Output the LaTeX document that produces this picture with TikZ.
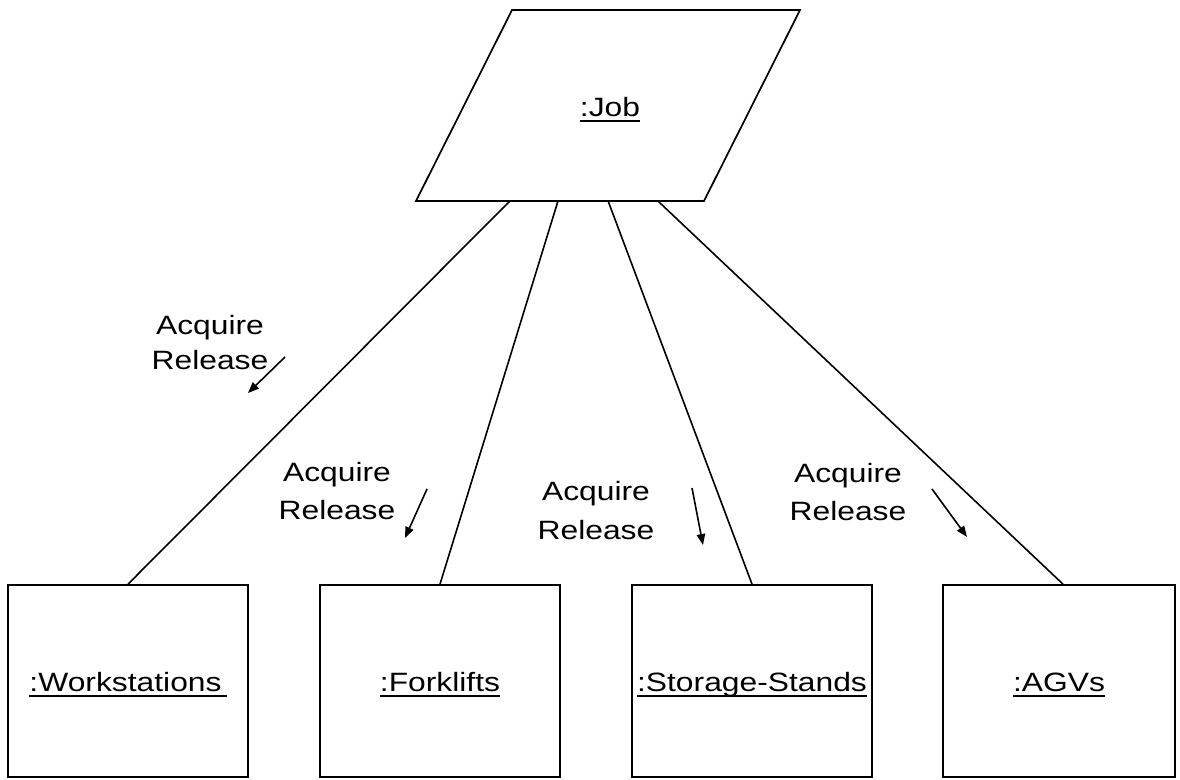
\documentclass[tikz,border=0pt]{standalone}
\usepackage{fontspec}
\setmainfont[FakeStretch=1.2]{Liberation Sans}
\usetikzlibrary{arrows.meta,calc}
\newcommand\uln[1]{\setbox0\hbox{#1}\rlap{\rule[-5pt]{\wd0}{2pt}}\box0}
\newcommand\objtext[1]{\raisebox{-10.7pt}[0pt][0pt]{\uln{#1}}}
\tikzset{
  obj/.style={draw,line width=1.7pt,minimum width=240pt,minimum height=192pt,inner sep=0pt},
  lbl/.style={align=center,inner sep=0pt},
  link/.style={line width=1.6pt},
  msg/.style={line width=1.6pt,-{Triangle[length=11pt,width=8.5pt]}}
}
\begin{document}
\begin{tikzpicture}[x=1pt,y=-1pt,font=\fontsize{26.5}{35}\selectfont]
\useasboundingbox (0,0) rectangle (1180,779);
\coordinate (jtl) at (512,10); \coordinate (jtr) at (800,10);
\coordinate (jbr) at (704,201); \coordinate (jbl) at (416,201);
\draw[line width=1.7pt,line join=miter] (jtl) -- (jtr) -- (jbr) -- (jbl) -- cycle;
\node[inner sep=0pt] (job) at (610,116.5) {\raisebox{0pt}[0pt][0pt]{\uln{:Job}}};
\node[obj] (ws) at (128,681) {\objtext{:Workstations\hspace{5pt}}};
\node[obj] (fl) at (440,681) {\objtext{:Forklifts}};
\node[obj] (ss) at (752,681) {\objtext{:Storage-Stands}};
\node[obj,minimum width=232pt] (agv) at (1059,681) {\objtext{:AGVs}};
\coordinate (j1) at ($(jbl)!0.326!(jbr)$);
\coordinate (j2) at ($(jbl)!0.493!(jbr)$);
\coordinate (j3) at ($(jbl)!0.667!(jbr)$);
\coordinate (j4) at ($(jbl)!0.840!(jbr)$);
\draw[link] (j1) -- (ws.north);
\draw[link] (j2) -- (fl.north);
\draw[link] (j3) -- (ss.north);
\draw[link] (j4) -- ($(agv.north)+(4,0)$);
\node[lbl] (l1) at (210,343) {Acquire\\Release};
\node[lbl] (l2) at (337,491) {Acquire\\[3pt]Release};
\node[lbl] (l3) at (596,511) {Acquire\\[4pt]Release};
\node[lbl] (l4) at (848,492) {Acquire\\[3pt]Release};
\coordinate (a1s) at (285,357); \coordinate (a1e) at (248,393);
\coordinate (a2s) at (427,489); \coordinate (a2e) at (405,538);
\coordinate (a3s) at (692,488); \coordinate (a3e) at (703,545);
\coordinate (a4s) at (932,489); \coordinate (a4e) at (967,537);
\draw[msg] (a1s) -- (a1e);
\draw[msg] (a2s) -- (a2e);
\draw[msg] (a3s) -- (a3e);
\draw[msg] (a4s) -- (a4e);
\end{tikzpicture}
\end{document}
